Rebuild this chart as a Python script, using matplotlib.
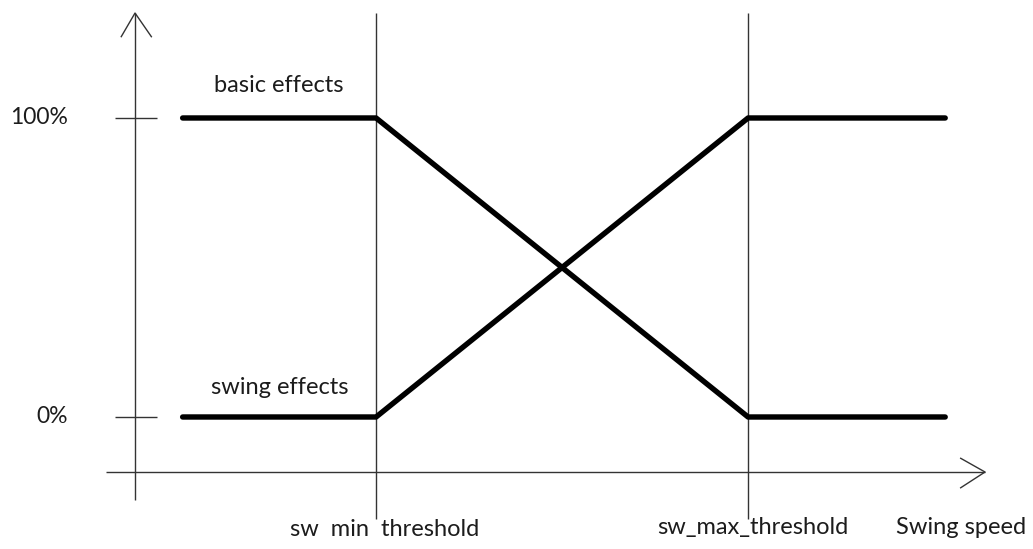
import matplotlib.pyplot as plt

plt.rcParams['font.family'] = ['Lato', 'DejaVu Sans']

# Swing speed breakpoints (threshold units) and effect weights in %
speed = [0.48, 1.0, 2.0, 2.53]
basic_effects = [100, 100, 0, 0]
swing_effects = [0, 0, 100, 100]
sw_min_threshold = 1.0
sw_max_threshold = 2.0
level_ticks = [0, 100]
level_labels = ['0%', '100%']

fig = plt.figure(figsize=(10.33, 5.49), dpi=100)
ax = fig.add_axes([0, 0, 1, 1])
ax.set_xlim(-0.011, 2.766)
ax.set_ylim(-44.15, 139.46)
ax.axis('off')

axis_kw = dict(color='#333333', lw=1.0, solid_capstyle='butt')

# hand-drawn style axes with open arrow heads
ax.plot([0.352, 0.352], [-27.8, 135.1], **axis_kw)
ax.plot([0.314, 0.352, 0.397], [127.0, 135.1, 127.0], **axis_kw)
ax.plot([0.274, 2.637], [-18.4, -18.4], **axis_kw)
ax.plot([2.570, 2.637, 2.570], [-13.7, -18.4, -23.8], **axis_kw)

# short tick marks on the level axis
for lv, lab in zip(level_ticks, level_labels):
    ax.plot([0.297, 0.411], [lv, lv], **axis_kw)
    ax.text(0.172, lv, lab, ha='right', va='center', fontsize=16.5, color='#1c1c1c')

# threshold guide lines
for th in (sw_min_threshold, sw_max_threshold):
    ax.plot([th, th], [-34.0, 135.0], **axis_kw)

ax.plot(speed, basic_effects, color='black', lw=3.9, solid_capstyle='round')
ax.plot(speed, swing_effects, color='black', lw=3.9, solid_capstyle='round')

txt = dict(fontsize=17, color='#1c1c1c', ha='center', va='center')
ax.text(0.739, 111.0, 'basic effects', **txt)
ax.text(0.742, 9.7, 'swing effects', **txt)
ax.text(1.022, -37.6, 'sw  min  threshold', **txt)
ax.text(2.013, -36.9, 'sw_max_threshold', **txt)
ax.text(2.573, -36.9, 'Swing speed', **txt)

fig.savefig('out.png', dpi=100)
